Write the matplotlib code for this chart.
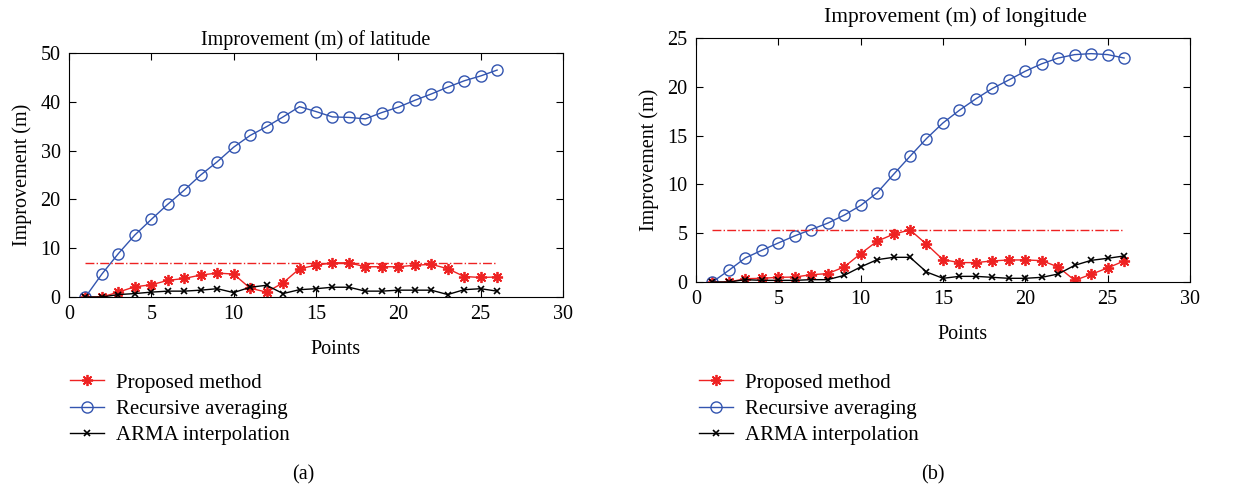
import matplotlib.pyplot as plt

plt.rcParams['font.family'] = ['Liberation Serif', 'DejaVu Serif']

points = list(range(1, 27))

# (a) latitude
lat_proposed = [0, 0, 1.0, 2.1, 2.5, 3.4, 3.8, 4.5, 4.9, 4.7, 1.8, 1.0, 2.9,
                5.8, 6.5, 7.0, 7.0, 6.2, 6.2, 6.2, 6.5, 6.7, 5.8, 4.2, 4.0, 4.1]
lat_recursive = [0, 4.7, 8.9, 12.7, 15.9, 19.0, 21.9, 25.0, 27.7, 30.7, 33.1, 34.9, 36.9,
                 39.0, 38.0, 36.9, 36.8, 36.5, 37.8, 38.9, 40.3, 41.6, 43.0, 44.3, 45.3, 46.5]
lat_arma = [0, 0, 0.5, 0.7, 1.0, 1.2, 1.2, 1.4, 1.7, 0.9, 2.0, 2.4, 0.7,
            1.5, 1.7, 2.0, 2.0, 1.2, 1.2, 1.4, 1.4, 1.4, 0.5, 1.5, 1.7, 1.2]
lat_level = 7.0

# (b) longitude
lon_proposed = [0, 0, 0.34, 0.38, 0.48, 0.51, 0.75, 0.86, 1.54, 2.9, 4.18, 4.9, 5.34,
                3.87, 2.29, 1.99, 1.99, 2.16, 2.26, 2.26, 2.19, 1.54, 0.17, 0.79, 1.44, 2.16]
lon_recursive = [0, 1.2, 2.47, 3.25, 4.0, 4.73, 5.38, 6.03, 6.85, 7.84, 9.14, 11.03, 12.88,
                 14.7, 16.3, 17.6, 18.77, 19.83, 20.7, 21.6, 22.36, 22.95, 23.3, 23.4, 23.3, 22.95]
lon_arma = [0, 0, 0.24, 0.17, 0.17, 0.17, 0.24, 0.24, 0.68, 1.54, 2.29, 2.53, 2.53,
            1.03, 0.38, 0.58, 0.58, 0.48, 0.38, 0.38, 0.48, 0.82, 1.71, 2.22, 2.43, 2.67]
lon_level = 5.34

red = '#ee2222'
blue = '#3355b0'
fs = 14.5

fig = plt.figure(figsize=(12.45, 4.88), dpi=100)
ax1 = fig.add_axes([0.0554, 0.3914, 0.3968, 0.5])
ax2 = fig.add_axes([0.559, 0.4221, 0.3968, 0.5])

# axes, data, title, yticks, ymax, legend x, title x, title size, title pad
panels = [
    (ax1, lat_proposed, lat_recursive, lat_arma, lat_level, 'Improvement (m) of latitude',
     [0, 10, 20, 30, 40, 50], 50, 0.0562, 0.5, 14.5, 6),
    (ax2, lon_proposed, lon_recursive, lon_arma, lon_level, 'Improvement (m) of longitude',
     [0, 5, 10, 15, 20, 25], 25, 0.5614, 0.526, 15.5, 11.5),
]

for ax, prop, rec, arma, level, title, yt, ymax, lx, tx, tfs, tpad in panels:
    ax.plot(points, prop, '-', color=red, marker=(8, 2, 0), ms=8, mew=1.3, lw=1,
            label='Proposed method')
    ax.plot(points, rec, '-', color=blue, marker='o', ms=8, mfc='none', mew=1, lw=1,
            label='Recursive averaging')
    ax.plot(points, arma, '-', color='black', marker='x', ms=4.5, mew=1.2, lw=1,
            label='ARMA interpolation')
    ax.plot([points[0], points[-1]], [level, level], '-.', color=red, lw=1)
    ax.set_xlim(0, 30)
    ax.set_ylim(0, ymax)
    ax.set_xticks([0, 5, 10, 15, 20, 25, 30])
    ax.set_yticks(yt)
    ax.tick_params(direction='in', top=True, right=True, labelsize=fs, length=5, pad=6)
    ax.set_title(title, fontsize=tfs, pad=tpad, x=tx)
    ax.set_xlabel('Points', fontsize=fs)
    ax.xaxis.set_label_coords(0.54, -0.175)
    ax.set_ylabel('Improvement (m)', fontsize=fs, labelpad=6)
    ax.legend(loc='upper left', bbox_to_anchor=(lx, 0.2353), bbox_transform=fig.transFigure,
              frameon=False, fontsize=15, handlelength=1.65, handletextpad=0.55,
              labelspacing=0.32, borderpad=0, borderaxespad=0)

fig.text(303 / 1245, 1 - 475 / 488, '(a)', ha='center', va='center', fontsize=fs)
fig.text(933 / 1245, 1 - 475 / 488, '(b)', ha='center', va='center', fontsize=fs)

fig.savefig('out.png', dpi=100)
